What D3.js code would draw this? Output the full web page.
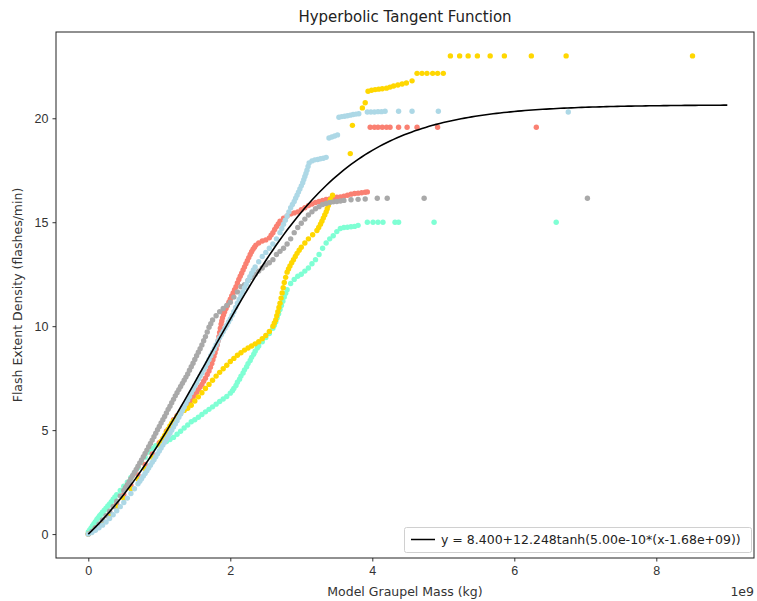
<!DOCTYPE html>
<html>
<head>
<meta charset="utf-8">
<script src="https://cdn.jsdelivr.net/npm/d3@7"></script>
<style>
  body { margin: 0; background: #fff; }
  svg { display: block; font-family: "DejaVu Sans", sans-serif; }
  .tick text { font-size: 12.5px; fill: #333; }
  .tick line { stroke: #333; }
  .domain { display: none; }
</style>
</head>
<body>
<svg width="757" height="601"></svg>
<script>
// x values are in units of 1e9 kg, y in flashes/min

const xTicks = [0, 2, 4, 6, 8];
const yTicks = [0, 5, 10, 15, 20];

// fit parameters printed in the legend
const fitA = 8.4, fitB = 12.248, fitC = 5.00e-10, fitX0 = 1.68e9, fitXmax = 9.0;

const aquaPts = [
  [0.00,0.10],[0.02,0.20],[0.04,0.30],[0.06,0.40],[0.08,0.50],[0.10,0.60],[0.12,0.70],[0.14,0.79],
  [0.16,0.88],[0.18,0.96],[0.20,1.05],[0.225,1.15],[0.25,1.25],[0.275,1.35],[0.30,1.45],[0.325,1.56],
  [0.35,1.68],[0.375,1.79],[0.40,1.90],[0.45,2.10],[0.50,2.30],[0.55,2.50],[0.60,2.72],[0.65,2.95],
  [0.70,3.20],[0.75,3.45],[0.80,3.70],[0.85,3.95],[0.90,4.12],[0.95,4.25],[1.00,4.35],[1.05,4.40],
  [1.10,4.45],[1.15,4.55],[1.20,4.65],[1.25,4.80],[1.30,4.95],[1.35,5.10],[1.40,5.25],[1.45,5.40],
  [1.50,5.50],[1.55,5.62],[1.60,5.75],[1.65,5.88],[1.70,6.00],[1.75,6.12],[1.80,6.25],[1.85,6.38],
  [1.90,6.50],[1.95,6.62],[2.00,6.78],[2.03,6.90],[2.05,7.00],[2.08,7.15],[2.10,7.30],[2.13,7.45],
  [2.15,7.60],[2.18,7.75],[2.20,7.90],[2.23,8.05],[2.25,8.20],[2.28,8.35],[2.30,8.50],[2.33,8.65],
  [2.35,8.80],[2.38,8.95],[2.40,9.05],[2.45,9.25],[2.50,9.45],[2.55,9.65],[2.60,9.90],[2.62,10.05],
  [2.64,10.2],[2.66,10.4],[2.68,10.6],[2.70,10.8],[2.72,11.0],[2.74,11.2],[2.76,11.4],[2.78,11.58],
  [2.80,11.75],[2.85,12.05],[2.90,12.25],[2.95,12.4],[3.00,12.5],[3.05,12.65],[3.10,12.8],[3.15,13.0],
  [3.20,13.2],[3.25,13.45],[3.30,13.75],[3.35,14.0],[3.40,14.2],[3.45,14.35],[3.50,14.55],[3.55,14.7],
  [3.60,14.75],[3.65,14.76],[3.70,14.78],[3.75,14.8],[3.80,14.85],
  [3.93,15.0],[4.01,15.0],[4.08,15.0],[4.15,15.0],[4.32,15.0],[4.37,15.0],[4.87,15.0],[6.59,15.0]
];

const salmonPts = [
  [0.00,0.00],[0.10,0.30],[0.20,0.65],[0.30,1.05],[0.40,1.45],[0.50,1.90],[0.60,2.35],[0.70,2.85],
  [0.80,3.35],[0.90,3.85],[1.00,4.40],[1.10,4.95],[1.20,5.50],[1.25,5.70],[1.30,5.85],[1.35,6.00],
  [1.40,6.20],[1.425,6.32],[1.45,6.45],[1.475,6.58],[1.50,6.70],[1.525,6.82],[1.55,6.95],[1.575,7.08],
  [1.60,7.20],[1.625,7.35],[1.65,7.50],[1.675,7.68],[1.70,7.85],[1.72,8.02],[1.74,8.20],[1.755,8.38],
  [1.77,8.55],[1.785,8.72],[1.80,8.90],[1.815,9.10],[1.83,9.30],[1.84,9.50],[1.85,9.70],[1.86,9.90],
  [1.87,10.1],[1.88,10.25],[1.89,10.4],[1.905,10.55],[1.92,10.7],[1.94,10.85],[1.96,11.0],[1.98,11.15],
  [2.00,11.3],[2.02,11.45],[2.04,11.6],[2.06,11.75],[2.08,11.9],[2.10,12.08],[2.12,12.25],[2.14,12.4],
  [2.16,12.55],[2.18,12.7],[2.20,12.85],[2.22,13.0],[2.24,13.15],[2.26,13.3],[2.28,13.45],[2.30,13.58],
  [2.32,13.7],[2.34,13.8],[2.36,13.9],[2.40,14.0],[2.45,14.1],[2.50,14.15],[2.55,14.25],[2.575,14.38],
  [2.60,14.5],[2.625,14.65],[2.65,14.8],[2.675,14.92],[2.70,15.05],[2.75,15.2],[2.80,15.3],[2.85,15.4],
  [2.90,15.45],[2.95,15.5],[3.00,15.6],[3.05,15.7],[3.10,15.8],[3.15,15.88],[3.20,15.95],[3.25,16.0],
  [3.30,16.05],[3.35,16.1],[3.40,16.12],[3.45,16.15],[3.50,16.2],[3.55,16.22],[3.60,16.25],[3.65,16.3],
  [3.70,16.35],[3.75,16.38],[3.80,16.4],[3.85,16.42],[3.90,16.44],[3.93,16.46],
  [3.97,19.57],[4.03,19.57],[4.08,19.57],[4.14,19.57],[4.20,19.57],[4.25,19.57],[4.37,19.57],
  [4.49,19.57],[4.63,19.57],[4.92,19.57],[6.31,19.57]
];

const goldPts = [
  [0.00,0.00],[0.10,0.25],[0.20,0.55],[0.30,0.90],[0.40,1.30],[0.50,1.72],[0.60,2.18],[0.70,2.65],
  [0.80,3.15],[0.90,3.70],[1.00,4.30],[1.025,4.45],[1.05,4.60],[1.075,4.75],[1.10,4.90],[1.125,5.05],
  [1.15,5.20],[1.175,5.33],[1.20,5.45],[1.25,5.65],[1.30,5.80],[1.35,5.95],[1.40,6.05],[1.45,6.20],
  [1.50,6.40],[1.55,6.60],[1.60,6.80],[1.65,7.00],[1.70,7.20],[1.75,7.40],[1.80,7.60],[1.85,7.78],
  [1.90,7.95],[1.95,8.12],[2.00,8.30],[2.05,8.45],[2.10,8.60],[2.15,8.72],[2.20,8.85],[2.25,8.95],
  [2.30,9.05],[2.35,9.15],[2.40,9.25],[2.45,9.40],[2.50,9.55],[2.55,9.75],[2.60,10.0],[2.62,10.15],
  [2.64,10.3],[2.655,10.5],[2.67,10.7],[2.685,10.9],[2.70,11.1],[2.715,11.35],[2.73,11.6],[2.745,11.85],
  [2.76,12.1],[2.78,12.35],[2.80,12.6],[2.82,12.75],[2.84,12.9],[2.865,13.05],[2.89,13.2],[2.915,13.35],
  [2.94,13.5],[2.97,13.65],[3.00,13.8],[3.05,14.0],[3.10,14.2],[3.16,14.4],[3.22,14.6],[3.245,14.75],
  [3.27,14.9],[3.29,15.05],[3.31,15.2],[3.33,15.35],[3.35,15.5],[3.365,15.65],[3.38,15.8],[3.395,15.95],
  [3.41,16.1],[3.44,16.3],
  [3.69,18.3],[3.72,19.66],[3.86,20.5],[3.90,20.75],[3.94,21.3],[3.99,21.35],[4.04,21.38],[4.09,21.4],
  [4.14,21.42],[4.20,21.45],[4.25,21.5],[4.30,21.55],[4.36,21.6],[4.42,21.65],[4.48,21.7],[4.56,21.8],
  [4.63,22.16],[4.70,22.16],[4.77,22.16],[4.85,22.16],[4.92,22.16],[5.00,22.16],
  [5.10,23.0],[5.23,23.0],[5.35,23.0],[5.48,23.0],[5.66,23.0],[5.86,23.0],[6.24,23.0],[6.73,23.0],[8.51,23.0]
];

const grayPts = [
  [0.00,0.00],[0.05,0.13],[0.10,0.30],[0.15,0.48],[0.20,0.68],[0.25,0.88],[0.30,1.10],[0.35,1.33],
  [0.40,1.58],[0.45,1.84],[0.50,2.10],[0.525,2.24],[0.55,2.38],[0.575,2.52],[0.60,2.67],[0.625,2.82],
  [0.65,2.96],[0.675,3.11],[0.70,3.26],[0.725,3.42],[0.75,3.57],[0.775,3.72],[0.80,3.88],[0.825,4.04],
  [0.85,4.20],[0.875,4.36],[0.90,4.52],[0.925,4.68],[0.95,4.85],[0.975,5.02],[1.00,5.18],[1.025,5.34],
  [1.05,5.50],[1.075,5.66],[1.10,5.83],[1.125,6.0],[1.15,6.15],[1.175,6.32],[1.20,6.48],[1.225,6.65],
  [1.25,6.80],[1.275,6.95],[1.30,7.10],[1.325,7.25],[1.35,7.40],[1.375,7.55],[1.40,7.70],[1.425,7.88],
  [1.45,8.05],[1.475,8.22],[1.50,8.40],[1.525,8.58],[1.55,8.75],[1.575,8.92],[1.60,9.10],[1.625,9.3],
  [1.65,9.50],[1.675,9.72],[1.70,9.95],[1.725,10.12],[1.75,10.3],[1.80,10.5],[1.85,10.7],[1.90,10.85],
  [1.95,11.0],[2.00,11.15],[2.05,11.4],[2.10,11.65],[2.15,11.9],[2.20,12.0],[2.25,12.2],[2.30,12.35],
  [2.35,12.5],[2.40,12.65],[2.45,12.8],[2.50,12.95],[2.55,13.05],[2.60,13.2],[2.65,13.45],[2.70,13.6],
  [2.75,13.75],[2.80,13.95],[2.85,14.2],[2.90,14.5],[2.95,14.75],[3.00,14.95],[3.05,15.15],[3.10,15.35],
  [3.15,15.5],[3.20,15.65],[3.25,15.75],[3.30,15.85],[3.35,15.9],[3.40,15.95],[3.45,15.98],[3.50,16.0],
  [3.55,16.02],[3.60,16.05],[3.70,16.08],[3.80,16.1],[3.90,16.12],
  [4.07,16.15],[4.21,16.15],[4.73,16.15],[7.03,16.15]
];

const lightbluePts = [
  [0.00,0.00],[0.05,0.08],[0.10,0.18],[0.15,0.30],[0.20,0.43],[0.25,0.58],[0.30,0.75],[0.35,0.93],
  [0.40,1.12],[0.45,1.32],[0.50,1.52],[0.55,1.73],[0.60,1.95],[0.65,2.18],[0.70,2.42],[0.725,2.54],
  [0.75,2.66],[0.775,2.79],[0.80,2.92],[0.825,3.05],[0.85,3.18],[0.875,3.31],[0.90,3.45],[0.925,3.58],
  [0.95,3.72],[0.975,3.86],[1.00,4.00],[1.025,4.14],[1.05,4.28],[1.075,4.42],[1.10,4.56],[1.125,4.7],
  [1.15,4.85],[1.175,5.0],[1.20,5.15],[1.225,5.3],[1.25,5.45],[1.275,5.62],[1.30,5.78],[1.325,5.94],
  [1.35,6.10],[1.375,6.28],[1.40,6.45],[1.425,6.62],[1.45,6.80],[1.475,6.96],[1.50,7.12],[1.525,7.28],
  [1.55,7.45],[1.575,7.6],[1.60,7.75],[1.625,7.9],[1.65,8.05],[1.675,8.22],[1.70,8.40],[1.725,8.58],
  [1.75,8.75],[1.775,8.92],[1.80,9.10],[1.825,9.28],[1.85,9.45],[1.875,9.6],[1.90,9.75],[1.925,9.9],
  [1.95,10.05],[1.975,10.2],[2.00,10.35],[2.025,10.52],[2.05,10.7],[2.075,10.9],[2.10,11.1],[2.125,11.28],
  [2.15,11.45],[2.175,11.65],[2.20,11.85],[2.225,12.02],[2.25,12.2],[2.275,12.38],[2.30,12.55],
  [2.325,12.7],[2.35,12.85],[2.40,13.1],[2.45,13.35],[2.50,13.55],[2.55,13.75],[2.60,13.95],[2.65,14.2],
  [2.70,14.5],[2.725,14.7],[2.75,14.9],[2.775,15.1],[2.80,15.3],[2.825,15.5],[2.85,15.7],[2.875,15.85],
  [2.90,16.0],[2.92,16.15],[2.94,16.3],[2.96,16.45],[2.98,16.6],[3.00,16.75],[3.02,16.9],[3.035,17.05],
  [3.05,17.2],[3.065,17.35],[3.08,17.5],[3.095,17.68],[3.11,17.85],[3.15,17.95],[3.19,18.0],
  [3.23,18.02],[3.27,18.05],[3.31,18.08],[3.35,18.12],
  [3.39,19.05],[3.43,19.1],[3.47,19.15],[3.51,19.2],
  [3.53,20.05],[3.57,20.08],[3.61,20.1],[3.65,20.12],[3.69,20.15],[3.73,20.18],[3.77,20.2],[3.81,20.22],
  [3.93,20.3],[3.98,20.3],[4.03,20.3],[4.08,20.32],[4.13,20.32],[4.18,20.34],[4.37,20.34],[4.56,20.34],
  [4.93,20.34],[6.76,20.3]
];

const series = [
  { pts: aquaPts, color: '#7fffd4' },
  { pts: salmonPts, color: '#fa8072' },
  { pts: goldPts, color: '#ffd700' },
  { pts: grayPts, color: '#a9a9a9' },
  { pts: lightbluePts, color: '#add8e6' }
];

const svg = d3.select('svg');
const plotL = 56, plotR = 754, plotT = 32, plotB = 558;

const x = d3.scaleLinear().domain([-0.455, 9.376]).range([plotL, plotR]);
const y = d3.scaleLinear().domain([-1.15, 24.15]).range([plotB, plotT]);

svg.append('clipPath').attr('id', 'plot')
  .append('rect')
  .attr('x', plotL).attr('y', plotT)
  .attr('width', plotR - plotL).attr('height', plotB - plotT);

const plot = svg.append('g').attr('clip-path', 'url(#plot)');

series.forEach(s => {
  plot.append('g')
    .selectAll('circle')
    .data(s.pts)
    .enter()
    .append('circle')
    .attr('cx', d => x(d[0]))
    .attr('cy', d => y(d[1]))
    .attr('r', 2.7)
    .attr('fill', s.color)
})

// fitted curve from the legend's parameters
const fit = v => fitA + fitB * Math.tanh(fitC * (v * 1e9 - fitX0));
const curveX = d3.range(0, fitXmax + 0.001, 0.05);
plot.append('path')
  .datum(curveX)
  .attr('fill', 'none')
  .attr('stroke', '#000')
  .attr('stroke-width', 1.6)
  .attr('d', d3.line().x(v => x(v)).y(v => y(fit(v))));

// axes
svg.append('g')
  .attr('transform', `translate(0, ${plotB})`)
  .call(d3.axisBottom(x).tickValues(xTicks).tickSize(3.5).tickPadding(5).tickSizeOuter(0));

svg.append('g')
  .attr('transform', `translate(${plotL}, 0)`)
  .call(d3.axisLeft(y).tickValues(yTicks).tickSize(3.5).tickPadding(4).tickSizeOuter(0));

svg.append('rect')
  .attr('x', plotL).attr('y', plotT)
  .attr('width', plotR - plotL).attr('height', plotB - plotT)
  .attr('fill', 'none')
  .attr('stroke', '#222')
  .attr('stroke-width', 1);

// legend
const lg = svg.append('g');
lg.append('rect')
  .attr('x', 404.5).attr('y', 527.5).attr('width', 347).attr('height', 25)
  .attr('rx', 2)
  .attr('fill', '#fff').attr('fill-opacity', 0.8)
  .attr('stroke', '#d0d0d0');
lg.append('line')
  .attr('x1', 411).attr('x2', 435).attr('y1', 539.5).attr('y2', 539.5)
  .attr('stroke', '#000').attr('stroke-width', 1.5);
lg.append('text')
  .attr('x', 441).attr('y', 544)
  .attr('font-size', 12.5).attr('fill', '#222')
  .text('y = 8.400+12.248tanh(5.00e-10*(x-1.68e+09))');

// titles
svg.append('text')
  .attr('x', (plotL + plotR) / 2).attr('y', 22)
  .attr('text-anchor', 'middle').attr('font-size', 15).attr('fill', '#222')
  .text('Hyperbolic Tangent Function');

svg.append('text')
  .attr('x', (plotL + plotR) / 2).attr('y', 596)
  .attr('text-anchor', 'middle').attr('font-size', 12.5).attr('fill', '#333')
  .text('Model Graupel Mass (kg)');

svg.append('text')
  .attr('x', plotR).attr('y', 596)
  .attr('text-anchor', 'end').attr('font-size', 12.5).attr('fill', '#333')
  .text('1e9');

svg.append('text')
  .attr('transform', `translate(22, ${(plotT + plotB) / 2}) rotate(-90)`)
  .attr('text-anchor', 'middle').attr('font-size', 12.5).attr('fill', '#333')
  .text('Flash Extent Density (flashes/min)');
</script>
</body>
</html>
